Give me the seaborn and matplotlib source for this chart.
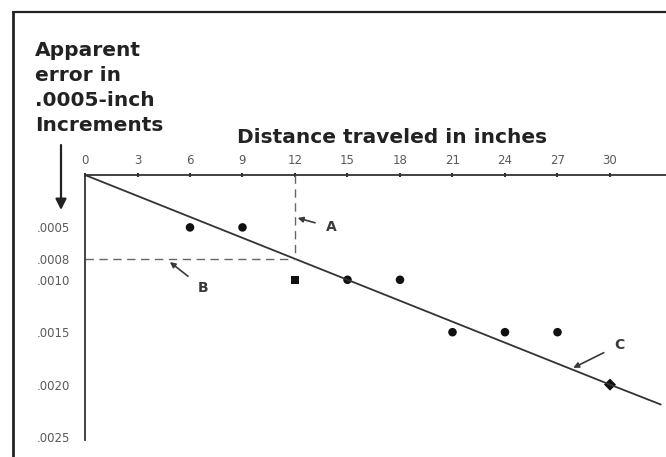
import matplotlib
matplotlib.use("Agg")
import matplotlib.pyplot as plt
from matplotlib.lines import Line2D
import seaborn as sns
import pandas as pd

# readings taken along the travel (inches) and apparent error (inches)
distance = [6, 9, 12, 15, 18, 21, 24, 27, 30]
error = [0.0005, 0.0005, 0.0010, 0.0010, 0.0010, 0.0015, 0.0015, 0.0015, 0.0020]
mark_kind = ["circle", "circle", "square", "circle", "circle",
             "circle", "circle", "circle", "diamond"]

# line C: the straight line through the origin
trend_x = [0, 12, 30, 32.9]
trend_y = [0, 0.0008, 0.0020, 0.00219]

# reading at 12 inches (lines A and B)
ref_x = 12
ref_y = 0.0008

xtick_vals = [0, 3, 6, 9, 12, 15, 18, 21, 24, 27, 30]
ytick_vals = [0.0005, 0.0008, 0.0010, 0.0015, 0.0020, 0.0025]
ytick_labels = [".0005", ".0008", ".0010", ".0015", ".0020", ".0025"]

W, H = 666, 457

sns.set_style("white")
plt.rcParams["font.family"] = ["DejaVu Sans"]

fig = plt.figure(figsize=(W / 100, H / 100), dpi=100)
ax = fig.add_axes([85 / W, 0, (W - 85) / W, 282 / H])
ax.set_facecolor("none")

df = pd.DataFrame({"distance": distance, "error": error, "kind": mark_kind})
sns.scatterplot(data=df, x="distance", y="error", style="kind",
                markers={"circle": "o", "square": "s", "diamond": "D"},
                color="#111111", s=38, edgecolor="none", legend=False, ax=ax)
sns.lineplot(x=trend_x, y=trend_y, color="#333333", lw=1.3, ax=ax)

# dashed guides A and B
ax.plot([ref_x, ref_x], [0, ref_y], ls=(0, (6, 4)), color="#666666", lw=1.0)
ax.plot([0, ref_x], [ref_y, ref_y], ls=(0, (6, 4)), color="#666666", lw=1.0)

ax.set_xlim(0, (W - 85) / 17.5)
ax.set_ylim(282 / 104800, 0)

ax.xaxis.tick_top()
ax.set_xticks(xtick_vals)
ax.set_xticklabels([str(v) for v in xtick_vals])
ax.set_yticks(ytick_vals)
ax.set_yticklabels(ytick_labels)
ax.tick_params(axis="both", direction="inout", length=3, width=1.5,
               color="#333333", labelsize=8.5, labelcolor="#5a5a5a")
ax.tick_params(axis="x", pad=4)
ax.tick_params(axis="y", pad=9)

for side in ["right", "bottom"]:
    ax.spines[side].set_visible(False)
ax.spines["top"].set_linewidth(1.3)
ax.spines["left"].set_linewidth(1.3)
ax.spines["top"].set_color("#333333")
ax.spines["left"].set_color("#333333")
ax.spines["left"].set_bounds(0, 0.00253)
ax.set_xlabel("")
ax.set_ylabel("")

# callouts
lab = dict(fontsize=10, color="#3a3a3a", ha="center", va="center",
           fontweight="semibold")
arr = dict(arrowstyle="-|>", color="#3a3a3a", lw=1.2, mutation_scale=8,
           shrinkA=6, shrinkB=0)
ax.annotate("A", xy=(12.15, 0.00041), xytext=(14.1, 0.00050),
            arrowprops=arr, **lab)
ax.annotate("B", xy=(4.85, 0.00083), xytext=(6.75, 0.00108),
            arrowprops=arr, **lab)
ax.annotate("C", xy=(27.9, 0.00184), xytext=(30.55, 0.00162),
            arrowprops=arr, **lab)

# titles
fig.text(35 / W, 1 - 41 / H, "Apparent\nerror in\n.0005-inch\nIncrements",
         fontsize=14.5, fontweight="bold", color="#222222",
         ha="left", va="top", linespacing=1.4)
fig.text(237 / W, 1 - 143 / H, "Distance traveled in inches",
         fontsize=14.5, fontweight="bold", color="#222222",
         ha="left", va="baseline")

# down arrow beside the y labels
ax.annotate("", xy=(61 / W, 1 - 210 / H), xytext=(61 / W, 1 - 145 / H),
            xycoords="figure fraction", textcoords="figure fraction",
            arrowprops=dict(arrowstyle="-|>", color="#222222", lw=1.6,
                            mutation_scale=16, shrinkA=0, shrinkB=0))

# frame of the scanned figure
fig.add_artist(Line2D([13 / W, 13 / W], [0, 1 - 12 / H],
                      transform=fig.transFigure, color="#222222", lw=2))
fig.add_artist(Line2D([13 / W, 1], [1 - 12 / H, 1 - 12 / H],
                      transform=fig.transFigure, color="#222222", lw=1.6))

fig.savefig("out.png", dpi=100)
